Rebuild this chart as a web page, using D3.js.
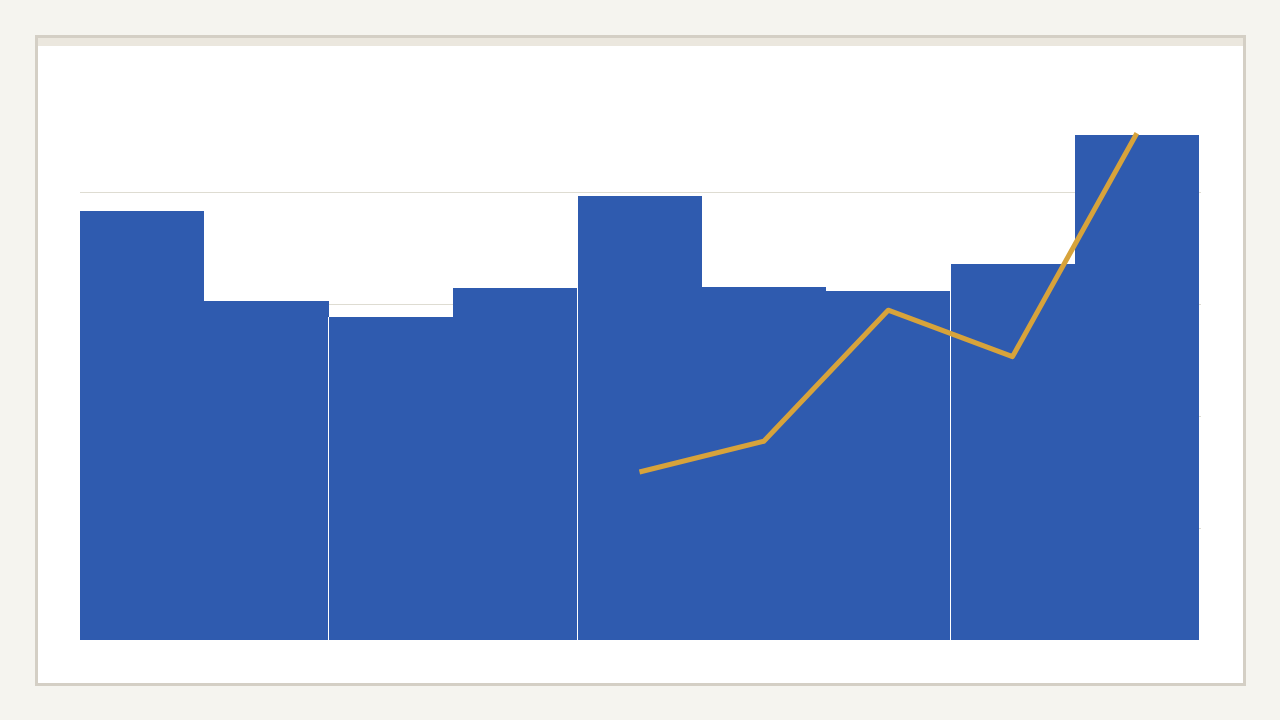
<!DOCTYPE html>
<html>
<head>
<meta charset="utf-8">
<script src="https://cdn.jsdelivr.net/npm/d3@7"></script>
<style>
  html, body { margin: 0; padding: 0; background: #f5f4ef; }
  svg { display: block; }
</style>
</head>
<body>
<svg id="chart"></svg>
<script>
// categories (no labels shown in the chart)
const categories = ["c1", "c2", "c3", "c4", "c5", "c6", "c7", "c8", "c9"];
// bar values
const barValues = [76.6, 60.6, 57.7, 62.9, 79.3, 63.0, 62.3, 67.1, 90.2];
// categories where a new group starts (thin white gap before them)
const groupStarts = ["c3", "c5", "c8"];
// line values (start at the 5th category)
const lineCategories = ["c5", "c6", "c7", "c8", "c9"];
const lineValues = [30.0, 35.5, 58.9, 50.6, 90.5];
// grid ticks
const gridTicks = [20, 40, 60, 80];

const width = 1280, height = 720;
const margin = {top: 80, right: 81, bottom: 80, left: 80};

var svg = d3.select("#chart")
  .attr("width", width)
  .attr("height", height)
  .attr("viewBox", [0, 0, width, height]);

// card
svg.append("rect")
  .attr("x", 36.5).attr("y", 36.5)
  .attr("width", 1208).attr("height", 648)
  .attr("fill", "#fff")
  .attr("stroke", "#d4cfc5")
  .attr("stroke-width", 3);

svg.append("rect")
  .attr("x", 38).attr("y", 38)
  .attr("width", 1205).attr("height", 8)
  .attr("fill", "#ebe7de");

const x = d3.scaleBand()
  .domain(categories)
  .range([margin.left, width - margin.right])
  .padding(0);

const y = d3.scaleLinear()
  .domain([0, 100])
  .range([height - margin.bottom, margin.top]);

// rounded band edges so neighbouring bars meet without seams
const left = d => Math.round(x(d));
const right = d => Math.round(x(d) + x.bandwidth());

// gridlines
svg.append("g")
  .selectAll("line")
  .data(gridTicks)
  .enter().append("line")
    .attr("x1", margin.left)
    .attr("x2", width - margin.right + 2)
    .attr("y1", d => y(d) + 0.5)
    .attr("y2", d => y(d) + 0.5)
    .attr("stroke", "#dedcd2")
    .attr("stroke-width", 1);

// bars
svg.append("g")
  .attr("fill", "#2f5baf")
  .attr("shape-rendering", "crispEdges")
  .selectAll("rect")
  .data(barValues)
  .enter().append("rect")
    .attr("x", (d, i) => left(categories[i]))
    .attr("y", d => Math.round(y(d)))
    .attr("width", (d, i) => right(categories[i]) - left(categories[i]))
    .attr("height", d => y(0) - Math.round(y(d)));

// group separators
svg.append("g")
  .selectAll("line")
  .data(groupStarts)
  .enter().append("line")
    .attr("x1", d => Math.floor(x(d)) + 0.5)
    .attr("x2", d => Math.floor(x(d)) + 0.5)
    .attr("y1", d => Math.round(y(barValues[categories.indexOf(d)])))
    .attr("y2", y(0))
    .attr("stroke", "#fff")
    .attr("stroke-width", 1);

// line
const line = d3.line()
  .x((d, i) => x(lineCategories[i]) + x.bandwidth() / 2)
  .y(d => y(d));

svg.append("path")
  .datum(lineValues)
  .attr("fill", "none")
  .attr("stroke", "#d7a33b")
  .attr("stroke-width", 5)
  .attr("stroke-linejoin", "round")
  .attr("d", line);
</script>
</body>
</html>
